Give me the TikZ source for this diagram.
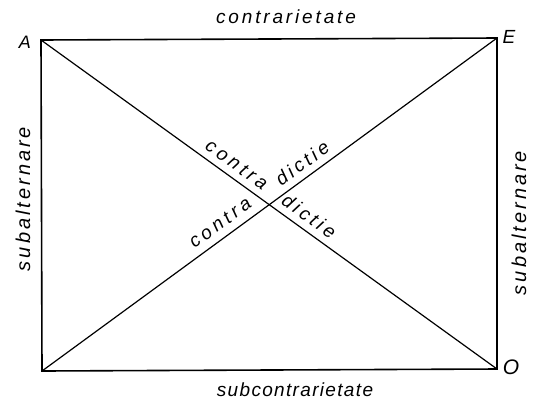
\documentclass[tikz,border=0pt]{standalone}
\usepackage{fontspec}
\setmainfont{Liberation Sans}
\begin{document}
\begin{tikzpicture}[x=1pt,y=-1pt,
  lbl/.style={font=\itshape\fontsize{19}{21}\selectfont\addfontfeatures{LetterSpace=#1}, inner sep=0pt},
  lbl/.default=0,
  sidelbl/.style={font=\itshape\fontsize{20}{22}\selectfont\addfontfeatures{LetterSpace=15}, inner sep=0pt, rotate=90},
  side/.style={line width=1.6pt, line cap=round},
  diag/.style={line width=1.2pt}]
\useasboundingbox (0,0) rectangle (534,405);
\coordinate (A) at (41,40);
\coordinate (E) at (497,38);
\coordinate (O) at (497,369);
\coordinate (I) at (42,371);
\draw[side] (A) -- (E) -- (O) -- (I) -- cycle;
\draw[diag] (A) -- (O);
\draw[diag] (I) -- (E);
\node[lbl, font=\itshape\fontsize{18}{20}\selectfont] (la) at (25,42) {A};
\node[lbl, font=\itshape\fontsize{19}{21}\selectfont] (le) at (509,37) {E};
\node[lbl, font=\itshape\fontsize{21}{23}\selectfont] (lo) at (511,367) {O};
\node[lbl=15] (top) at (286,17) {contrarietate};
\node[lbl=7] (bot) at (295,390) {subcontrarietate};
\node[sidelbl] (left) at (23,199) {subalternare};
\node[sidelbl] (right) at (519,223) {subalternare};
\path (A) -- (O) node[lbl=20, pos=0.412, sloped, above=7pt] (c1) {contra}
                 node[lbl=18, pos=0.570, sloped, above=7pt] (d1) {dictie};
\path (I) -- (E) node[lbl=20, pos=0.41, sloped, above=8pt] (c2) {contra}
                 node[lbl=18, pos=0.59, sloped, above=7pt] (d2) {dictie};
\end{tikzpicture}
\end{document}
